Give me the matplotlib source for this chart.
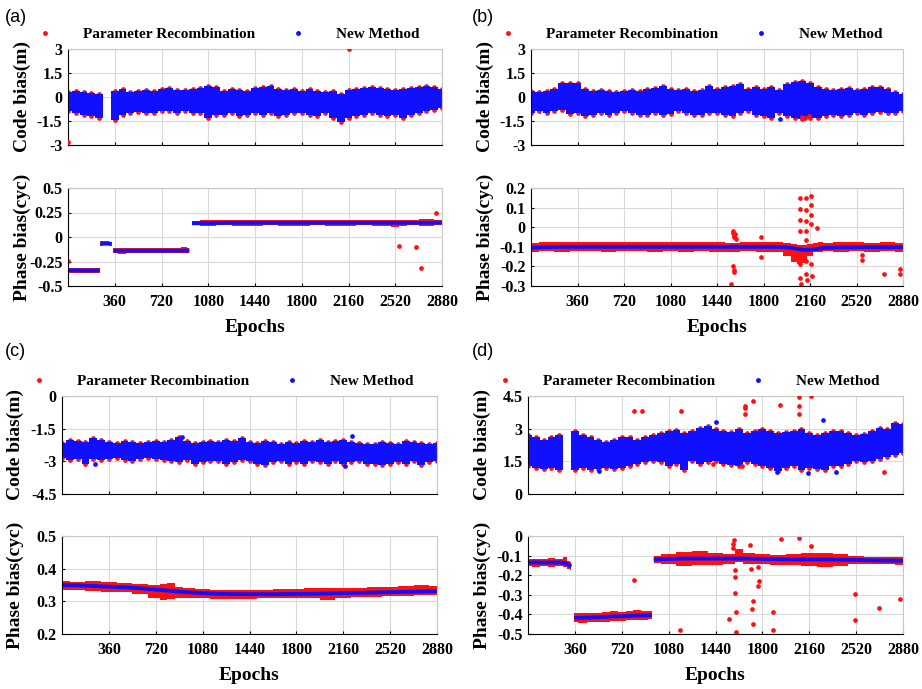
import numpy as np
import matplotlib
matplotlib.use('Agg')
import matplotlib.pyplot as plt
from matplotlib.lines import Line2D

plt.rcParams['font.family'] = 'serif'
plt.rcParams['font.serif'] = ['Liberation Serif', 'DejaVu Serif']
plt.rcParams['font.weight'] = 'bold'
plt.rcParams['axes.labelweight'] = 'bold'

nan = np.nan

# ---------------- code bias: band of the dense cloud, one knot every 60 epochs
ep_code = np.arange(0, 2881, 60)

code_hi_a = [0.3, 0.35, 0.3, 0.25, 0.2, nan, 0.4, 0.5, 0.3, 0.35, 0.45, 0.4, 0.5, 0.55, 0.45,
             0.45, 0.5, 0.55, 0.7, 0.65, 0.4, 0.5, 0.45, 0.4, 0.55, 0.6, 0.7, 0.5, 0.45, 0.5,
             0.4, 0.5, 0.35, 0.3, 0.4, 0.2, 0.45, 0.5, 0.55, 0.6, 0.55, 0.5, 0.45, 0.5, 0.55,
             0.6, 0.7, 0.6, 0.5]
code_lo_a = [-0.9, -1.0, -1.1, -1.2, -1.3, nan, -1.45, -1.1, -1.0, -0.95, -1.0, -1.0, -0.9, -0.9, -1.0,
             -0.9, -1.0, -1.0, -1.3, -1.1, -1.1, -1.0, -1.2, -1.1, -1.0, -1.1, -1.0, -1.2, -1.1, -1.0,
             -1.0, -1.1, -1.2, -1.0, -1.3, -1.55, -1.3, -1.2, -1.1, -1.0, -1.1, -1.2, -1.1, -1.3, -1.1,
             -1.0, -0.9, -0.8, -0.7]
code_hi_b = [0.4, 0.3, 0.4, 0.5, 0.9, 0.9, 0.85, 0.5, 0.4, 0.45, 0.4, 0.3, 0.35, 0.45, 0.4,
             0.5, 0.55, 0.7, 0.5, 0.45, 0.5, 0.4, 0.45, 0.7, 0.5, 0.6, 0.7, 0.8, 0.5, 0.6,
             0.5, 0.6, 0.45, 0.8, 0.95, 1.0, 0.85, 0.6, 0.5, 0.45, 0.5, 0.55, 0.45, 0.5, 0.6,
             0.6, 0.5, 0.3, 0.2]
code_lo_b = [-1.0, -0.9, -1.0, -0.9, -0.8, -1.05, -1.0, -1.2, -1.1, -1.0, -1.15, -1.0, -0.9, -1.0, -1.1,
             -1.15, -1.0, -1.1, -1.05, -0.9, -1.0, -1.15, -1.1, -1.0, -1.0, -1.1, -1.2, -1.0, -0.9, -1.1,
             -1.2, -1.3, -1.0, -1.2, -1.3, -1.35, -1.3, -1.3, -1.2, -1.1, -1.2, -1.1, -1.0, -1.1, -1.0,
             -0.95, -1.0, -1.0, -0.9]
code_hi_c = [-2.15, -2.0, -2.05, -2.1, -1.95, -2.0, -2.1, -2.15, -2.05, -2.1, -2.15, -2.1, -2.05, -2.1, -2.0,
             -1.9, -2.05, -2.15, -2.1, -2.05, -2.1, -2.0, -2.05, -1.95, -2.1, -2.15, -2.05, -2.1, -2.2, -2.1,
             -2.15, -2.05, -2.1, -2.0, -2.1, -2.05, -2.0, -2.1, -2.15, -2.2, -2.2, -2.1, -2.15, -2.2, -2.05,
             -2.1, -2.15, -2.2, -2.15]
code_lo_c = [-2.85, -2.95, -2.9, -3.1, -2.9, -2.95, -2.9, -2.85, -2.95, -3.0, -2.9, -2.85, -2.9, -2.95, -3.0,
             -3.05, -2.95, -3.1, -3.05, -3.0, -3.0, -3.1, -3.05, -2.95, -3.0, -3.1, -3.15, -3.05, -3.0, -3.1,
             -3.05, -3.1, -3.0, -3.05, -3.1, -3.0, -3.1, -3.05, -3.0, -3.1, -3.1, -3.15, -3.1, -3.05, -3.1,
             -3.0, -3.15, -3.05, -3.0]
code_hi_d = [2.7, 2.6, 2.5, 2.6, 2.7, nan, 2.9, 2.7, 2.6, 2.5, 2.4, 2.5, 2.6, 2.6, 2.5,
             2.6, 2.7, 2.8, 2.9, 2.95, 2.8, 2.9, 3.05, 3.1, 3.0, 2.9, 2.85, 3.0, 2.8, 2.9,
             3.0, 2.9, 2.8, 2.85, 2.9, 3.0, 2.8, 2.7, 2.8, 2.9, 2.9, 2.8, 2.7, 2.75, 2.9,
             3.05, 3.0, 3.25, 3.2]
code_lo_d = [1.3, 1.2, 1.15, 1.2, 1.1, nan, 1.1, 1.2, 1.1, 1.15, 1.2, 1.15, 1.2, 1.3, 1.4,
             1.45, 1.5, 1.45, 1.3, 1.4, 1.1, 1.5, 1.4, 1.45, 1.5, 1.4, 1.35, 1.3, 1.45, 1.4,
             1.3, 1.2, 1.05, 1.2, 1.3, 1.1, 1.2, 1.15, 1.1, 1.3, 1.3, 1.4, 1.5, 1.45, 1.5,
             1.6, 1.7, 1.8, 1.9]

# code bias outliers
code_red_a = ([2160, 0], [3.0, -2.8])
code_blue_a = ([], [])
code_red_b = ([2095, 2120, 2150], [-1.25, -1.3, -1.2])
code_blue_b = ([1930], [-1.35])
code_red_c = ([], [])
code_blue_c = ([2225, 920, 2175, 255], [-1.85, -1.9, -3.2, -3.1])
code_red_d = ([815, 872, 1172, 1667, 1667, 1667, 1731, 1936, 2085, 2085, 2085, 2172, 2736, 1423, 1641],
              [3.83, 3.83, 3.8, 4.04, 3.94, 3.68, 4.29, 4.09, 4.44, 4.04, 3.68, 4.5, 1.0, 1.38, 1.29])
code_blue_d = ([1444, 2269, 2154, 1910, 2367, 546], [3.32, 3.4, 0.98, 1.03, 1.03, 1.07])

# ---------------- phase bias: knots (nan separates segments)
ph_ep_a = [0, 60, 120, 180, 245, nan, 250, 290, 335, nan,
           350, 420, 480, 540, 600, 660, 720, 780, 840, 900, 935, nan,
           955, 1080, 1200, 1320, 1440, 1560, 1680, 1800, 1920, 2040, 2160, 2280, 2400, 2460, 2520,
           2580, 2640, 2760, 2880]
ph_blue_a = [-0.34, -0.34, -0.342, -0.342, -0.342, nan, -0.068, -0.068, -0.068, nan,
             -0.14, -0.14, -0.14, -0.14, -0.14, -0.14, -0.14, -0.14, -0.14, -0.138, -0.14, nan,
             0.14, 0.142, 0.144, 0.145, 0.145, 0.145, 0.145, 0.145, 0.145, 0.145, 0.145, 0.145, 0.145,
             0.145, 0.145, 0.145, 0.145, 0.145, 0.147]
ph_lo_a = [-0.365, -0.367, -0.365, -0.368, -0.365, nan, -0.087, -0.085, -0.088, nan,
           -0.165, -0.17, -0.165, -0.167, -0.163, -0.165, -0.167, -0.163, -0.165, -0.165, -0.167, nan,
           0.12, 0.115, 0.12, 0.117, 0.115, 0.12, 0.115, 0.117, 0.12, 0.115, 0.117, 0.12, 0.115,
           0.113, 0.098, 0.117, 0.12, 0.117, 0.12]
ph_hi_a = [-0.32, -0.317, -0.32, -0.315, -0.32, nan, -0.045, -0.043, -0.047, nan,
           -0.117, -0.115, -0.117, -0.113, -0.117, -0.115, -0.117, -0.115, -0.113, -0.098, -0.11, nan,
           0.165, 0.173, 0.17, 0.175, 0.173, 0.17, 0.175, 0.177, 0.173, 0.175, 0.177, 0.173, 0.17,
           0.175, 0.17, 0.173, 0.17, 0.18, 0.175]
ph_out_a = ([0, 2551, 2682, 2721, 2837], [-0.24, -0.093, -0.10, -0.317, 0.241])

ph_ep_b = [0, 120, 240, 360, 480, 600, 720, 840, 960, 1080, 1200, 1320, 1440, 1560, 1680, 1800,
           1920, 1980, 2040, 2080, 2120, 2160, 2200, 2240, 2280, 2400, 2520, 2640, 2760, 2880]
ph_blue_b = [-0.105, -0.102, -0.1, -0.1, -0.1, -0.1, -0.1, -0.1, -0.1, -0.1, -0.1, -0.1, -0.1, -0.1,
             -0.1, -0.1, -0.1, -0.103, -0.108, -0.113, -0.116, -0.115, -0.112, -0.108, -0.105,
             -0.103, -0.102, -0.102, -0.102, -0.102]
ph_lo_b = [-0.125, -0.122, -0.125, -0.123, -0.122, -0.125, -0.123, -0.122, -0.125, -0.123, -0.125,
           -0.122, -0.125, -0.125, -0.123, -0.125, -0.125, -0.145, -0.175, -0.19, -0.185, -0.145,
           -0.125, -0.125, -0.123, -0.125, -0.122, -0.125, -0.123, -0.125]
ph_hi_b = [-0.08, -0.078, -0.076, -0.078, -0.075, -0.077, -0.075, -0.077, -0.078, -0.077, -0.078,
           -0.077, -0.078, -0.08, -0.078, -0.077, -0.078, -0.08, -0.085, -0.09, -0.09, -0.085,
           -0.08, -0.078, -0.08, -0.078, -0.077, -0.08, -0.078, -0.08]
ph_out_b = ([1548, 1563, 1566, 1570, 1575, 1580, 1585, 1563, 1568, 1575, 1780, 1780,
             2085, 2085, 2085, 2085, 2085, 2085, 2090, 2130, 2130, 2130, 2130, 2130, 2130, 2130, 2135,
             2170, 2170, 2170, 2170, 2170, 2172, 2215, 2563, 2563, 2731, 2855, 2855],
            [-0.29, -0.02, -0.03, -0.045, -0.05, -0.035, -0.06, -0.2, -0.22, -0.23, -0.05, -0.15,
             0.15, 0.095, 0.035, -0.02, -0.19, -0.26, -0.29, 0.15, 0.09, 0.03, -0.02, -0.065, -0.17,
             -0.24, -0.27, 0.16, 0.115, 0.06, 0.015, -0.19, -0.25, -0.005, -0.14, -0.165, -0.24,
             -0.215, -0.24])

ph_ep_c = [0, 120, 240, 360, 480, 600, 720, 780, 840, 900, 960, 1080, 1200, 1320, 1440, 1560,
           1680, 1800, 1920, 2040, 2160, 2280, 2400, 2520, 2640, 2760, 2880]
ph_blue_c = [0.35, 0.349, 0.347, 0.345, 0.343, 0.34, 0.336, 0.334, 0.332, 0.33, 0.328, 0.325,
             0.323, 0.322, 0.322, 0.322, 0.322, 0.323, 0.323, 0.324, 0.325, 0.326, 0.327, 0.328,
             0.329, 0.33, 0.331]
ph_lo_c = [0.335, 0.335, 0.333, 0.33, 0.328, 0.323, 0.31, 0.305, 0.308, 0.31, 0.31, 0.31, 0.308,
           0.306, 0.308, 0.31, 0.311, 0.31, 0.311, 0.305, 0.31, 0.312, 0.313, 0.315, 0.315, 0.318, 0.32]
ph_hi_c = [0.362, 0.36, 0.362, 0.358, 0.356, 0.352, 0.35, 0.352, 0.356, 0.345, 0.34, 0.338, 0.336,
           0.335, 0.335, 0.336, 0.338, 0.337, 0.34, 0.342, 0.34, 0.342, 0.343, 0.345, 0.346, 0.35, 0.348]
ph_out_c = ([], [])

ph_ep_d = [0, 60, 120, 180, 240, 290, 310, 333, nan,
           355, 420, 480, 540, 600, 660, 720, 780, 840, 900, 950, nan,
           965, 1080, 1200, 1320, 1440, 1560, 1620, 1680, 1800, 1920, 2040, 2160, 2280, 2400, 2520,
           2640, 2760, 2880]
ph_blue_d = [-0.135, -0.135, -0.136, -0.135, -0.135, -0.138, -0.148, -0.155, nan,
             -0.418, -0.417, -0.416, -0.414, -0.412, -0.41, -0.409, -0.408, -0.406, -0.405, -0.404, nan,
             -0.12, -0.117, -0.115, -0.115, -0.115, -0.115, -0.115, -0.115, -0.117, -0.118, -0.12,
             -0.12, -0.12, -0.121, -0.122, -0.124, -0.125, -0.126]
ph_lo_d = [-0.155, -0.157, -0.155, -0.157, -0.155, -0.16, -0.17, -0.175, nan,
           -0.44, -0.443, -0.44, -0.438, -0.437, -0.435, -0.433, -0.43, -0.43, -0.427, -0.425, nan,
           -0.14, -0.145, -0.155, -0.15, -0.15, -0.145, -0.135, -0.145, -0.145, -0.15, -0.15, -0.155,
           -0.16, -0.155, -0.145, -0.145, -0.145, -0.148]
ph_hi_d = [-0.115, -0.117, -0.115, -0.112, -0.115, -0.105, -0.125, -0.135, nan,
           -0.395, -0.393, -0.395, -0.392, -0.39, -0.385, -0.387, -0.385, -0.38, -0.383, -0.385, nan,
           -0.1, -0.09, -0.08, -0.075, -0.085, -0.09, -0.065, -0.085, -0.09, -0.095, -0.09, -0.085,
           -0.085, -0.09, -0.1, -0.105, -0.105, -0.108]
ph_out_d = ([815, 1167, 1546, 1582, 1575, 1578, 1590, 1590, 1592, 1597, 1597, 1705, 1710, 1718,
             1731, 1731, 1769, 1772, 1765, 1879, 1879, 1941, 2085, 2172, 2508, 2508, 2697, 2855],
            [-0.224, -0.48, -0.424, -0.02, -0.04, -0.06, -0.21, -0.175, -0.29, -0.39, -0.49, -0.045,
             -0.17, -0.37, -0.33, -0.45, -0.255, -0.23, -0.16, -0.39, -0.48, -0.015, -0.01, -0.05,
             -0.295, -0.43, -0.365, -0.32])

code_ylims = [(-3, 3), (-3, 3), (-4.5, 0), (0, 4.5)]
code_ticks = [[-3, -1.5, 0, 1.5, 3], [-3, -1.5, 0, 1.5, 3], [-4.5, -3, -1.5, 0], [0, 1.5, 3, 4.5]]
code_ticklabels = [['-3', '-1.5', '0', '1.5', '3'], ['-3', '-1.5', '0', '1.5', '3'],
                   ['-4.5', '-3', '-1.5', '0'], ['0', '1.5', '3', '4.5']]
ph_ylims = [(-0.5, 0.5), (-0.3, 0.2), (0.2, 0.5), (-0.5, 0)]
ph_ticks = [[-0.5, -0.25, 0, 0.25, 0.5], [-0.3, -0.2, -0.1, 0, 0.1, 0.2],
            [0.2, 0.3, 0.4, 0.5], [-0.5, -0.4, -0.3, -0.2, -0.1, 0]]
ph_ticklabels = [['-0.5', '-0.25', '0', '0.25', '0.5'], ['-0.3', '-0.2', '-0.1', '0', '0.1', '0.2'],
                 ['0.2', '0.3', '0.4', '0.5'], ['-0.5', '-0.4', '-0.3', '-0.2', '-0.1', '0']]
epoch_ticks = [360, 720, 1080, 1440, 1800, 2160, 2520, 2880]

RED = '#ff1010'
BLUE = '#1010ff'

fig = plt.figure(figsize=(9.22, 6.89), dpi=100)

# axes rectangles in pixels: left, right, top(code), bottom(code), top(phase), bottom(phase)
W, H = 922., 689.
boxes = [(68, 442, 49, 145, 188, 286), (531, 903, 49, 145, 188, 286),
         (62, 437, 396, 494, 536, 634), (528, 903, 396, 494, 536, 634)]
panel_lab = ['(a)', '(b)', '(c)', '(d)']
panel_pos = [(5, 17), (472, 17), (5, 351), (472, 351)]

code_hi = [code_hi_a, code_hi_b, code_hi_c, code_hi_d]
code_lo = [code_lo_a, code_lo_b, code_lo_c, code_lo_d]
code_red = [code_red_a, code_red_b, code_red_c, code_red_d]
code_blue = [code_blue_a, code_blue_b, code_blue_c, code_blue_d]
ph_ep = [ph_ep_a, ph_ep_b, ph_ep_c, ph_ep_d]
ph_blue = [ph_blue_a, ph_blue_b, ph_blue_c, ph_blue_d]
ph_lo = [ph_lo_a, ph_lo_b, ph_lo_c, ph_lo_d]
ph_hi = [ph_hi_a, ph_hi_b, ph_hi_c, ph_hi_d]
ph_out = [ph_out_a, ph_out_b, ph_out_c, ph_out_d]


def style(ax, ylim, ticks, labels, ylabel):
    ax.set_xlim(0, 2880)
    ax.set_ylim(*ylim)
    ax.set_xticks(epoch_ticks)
    ax.set_xticklabels([str(t) for t in epoch_ticks], fontweight='bold')
    ax.set_yticks(ticks)
    ax.set_yticklabels(labels, fontweight='bold')
    ax.grid(True, color='#d9d9d9', lw=0.8)
    ax.set_axisbelow(True)
    for s in ['top', 'right']:
        ax.spines[s].set_color('#c8c8c8')
    ax.tick_params(direction='in', length=2.5, labelsize=11.5, pad=4)
    ax.set_ylabel(ylabel, fontsize=14, fontweight='bold')
    ax.yaxis.set_label_coords(-0.1, 0.5)


for i in range(4):
    l, r, t1, b1, t2, b2 = boxes[i]
    ax1 = fig.add_axes([l / W, 1 - b1 / H, (r - l) / W, (b1 - t1) / H])
    ax2 = fig.add_axes([l / W, 1 - b2 / H, (r - l) / W, (b2 - t2) / H])

    # code bias: red points peek out at the edges of the blue cloud
    hi = np.array(code_hi[i], dtype=float)
    lo = np.array(code_lo[i], dtype=float)
    ax1.plot(ep_code, hi, 'o', color=RED, ms=3.4, mew=0, zorder=1)
    ax1.plot(ep_code, lo, 'o', color=RED, ms=3.4, mew=0, zorder=1)
    ax1.bar(ep_code, hi - lo, bottom=lo, width=60, color=BLUE, linewidth=0, zorder=2)
    ax1.plot(code_red[i][0], code_red[i][1], 'o', color=RED, ms=3.4, mew=0, zorder=3)
    ax1.plot(code_blue[i][0], code_blue[i][1], 'o', color=BLUE, ms=3.4, mew=0, zorder=3)
    style(ax1, code_ylims[i], code_ticks[i], code_ticklabels[i], 'Code bias(m)')
    ax1.tick_params(labelbottom=False)

    # phase bias
    ax2.fill_between(ph_ep[i], ph_lo[i], ph_hi[i], step='mid', color=RED, lw=0)
    ax2.plot(ph_ep[i], ph_blue[i], color=BLUE, lw=2.8, solid_capstyle='butt')
    ax2.plot(ph_out[i][0], ph_out[i][1], 'o', color=RED, ms=3.4, mew=0)
    style(ax2, ph_ylims[i], ph_ticks[i], ph_ticklabels[i], 'Phase bias(cyc)')
    ax2.tick_params(axis='x', pad=6)
    ax2.set_xlabel('Epochs', fontsize=14, fontweight='bold', labelpad=6)

    handles = [Line2D([], [], marker='o', ls='', color=RED, ms=3.5, mew=0),
               Line2D([], [], marker='o', ls='', color=BLUE, ms=3.5, mew=0)]
    ax1.legend(handles, ['Parameter Recombination', 'New Method'], ncol=2, frameon=False,
               loc='lower left', bbox_to_anchor=(-0.082, 1.08), borderpad=0, borderaxespad=0,
               handlelength=1.0, handletextpad=2.0, columnspacing=2.3,
               prop={'family': 'serif', 'weight': 'bold', 'size': 11})

    fig.text(panel_pos[i][0] / W, 1 - panel_pos[i][1] / H, panel_lab[i], ha='left', va='center',
             fontsize=13, family='Liberation Sans', weight='normal')

fig.savefig('out.png', dpi=100)
